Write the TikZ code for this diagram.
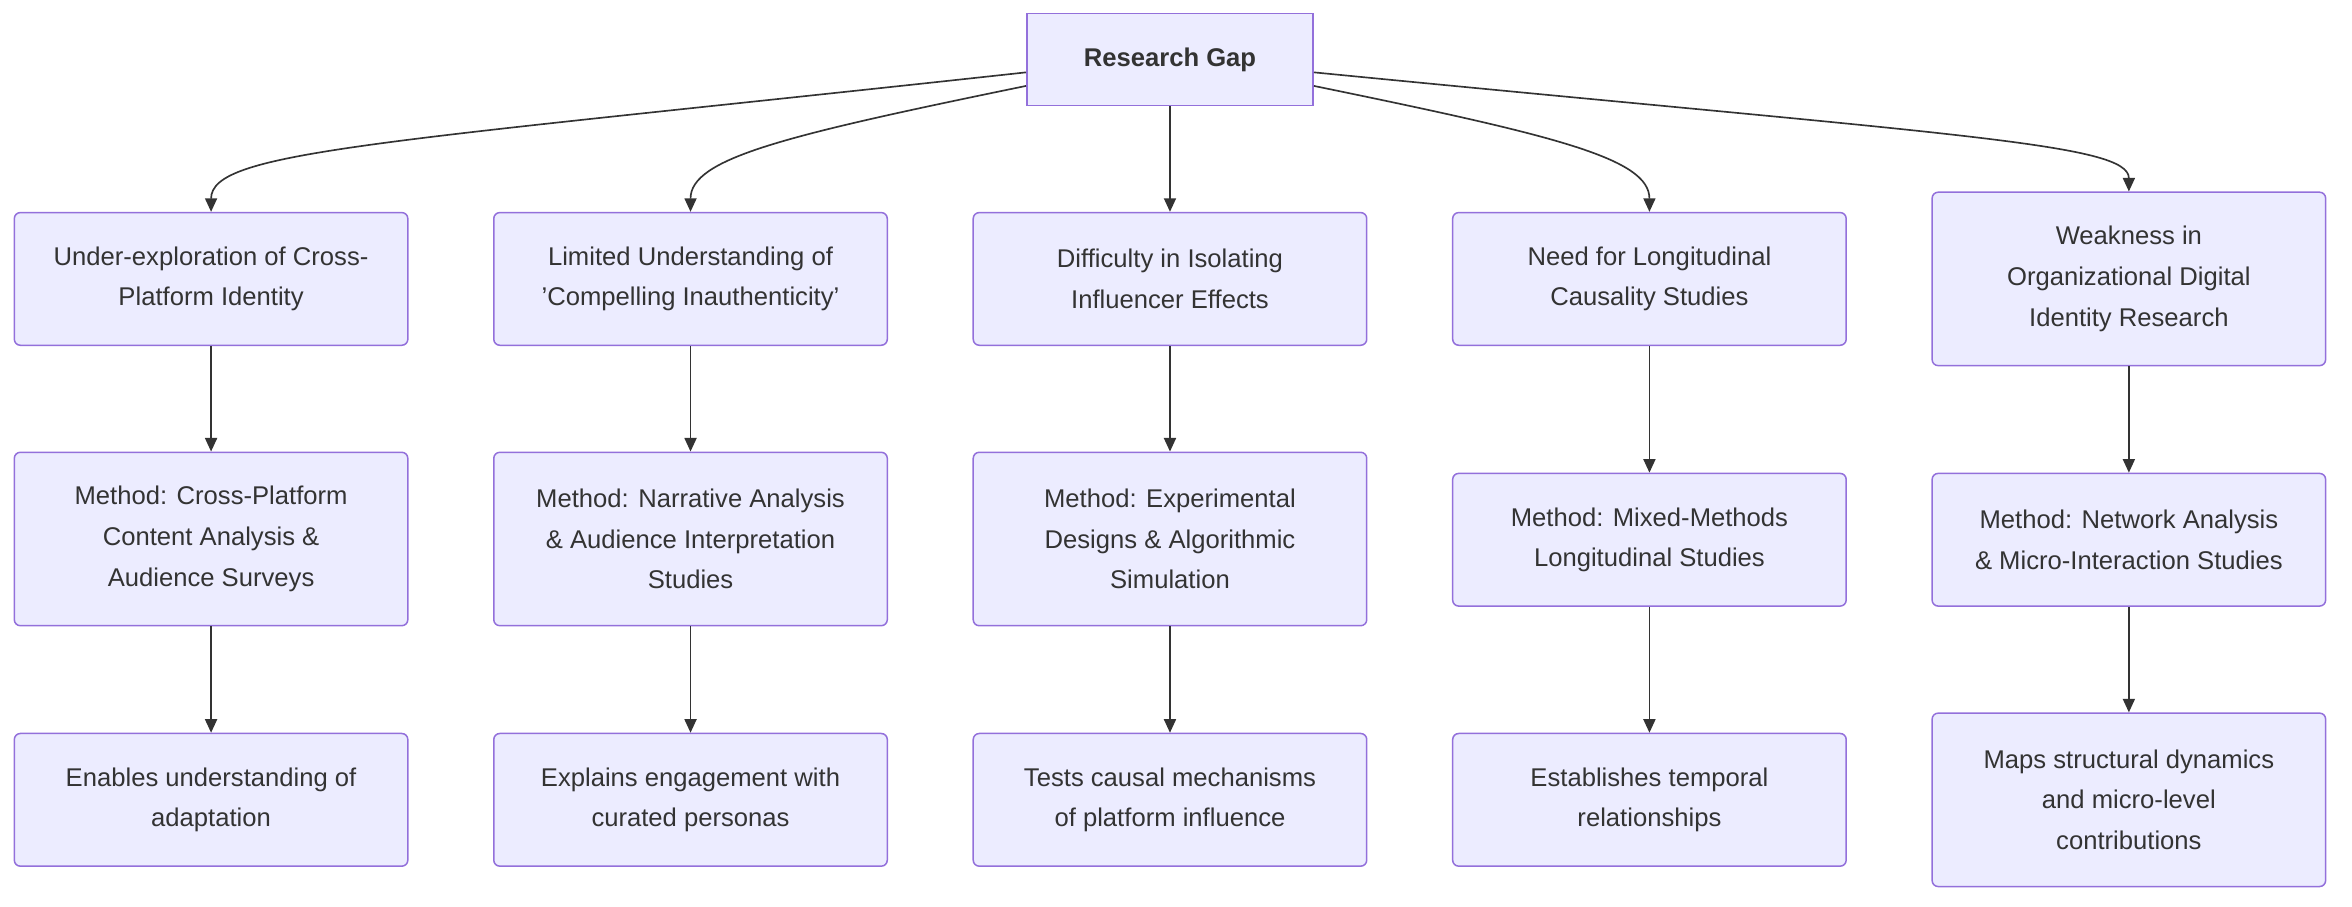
\documentclass[tikz,border=0pt]{standalone}
\usepackage{fontspec}
\setmainfont{Liberation Sans}
\usetikzlibrary{arrows.meta}
\definecolor{nfill}{HTML}{ECECFF}
\definecolor{nline}{HTML}{9370DB}
\definecolor{ink}{HTML}{333333}
\begin{document}
\begin{tikzpicture}[x=1pt,y=-1pt,
  box/.style={draw=nline,fill=nfill,line width=1pt,rounded corners=4pt,minimum width=261pt,inner sep=0pt,align=center,text=ink,font=\fontsize{17}{27}\selectfont},
  sq/.style={box,rounded corners=0pt,minimum width=190pt,minimum height=61pt,font=\fontsize{17}{27}\selectfont\bfseries},
  h88/.style={minimum height=88pt},
  h115/.style={minimum height=115pt},
  arr/.style={draw=ink,line width=1.1pt,-{Triangle[length=9pt,width=8pt]}}]
\useasboundingbox (0,0) rectangle (1560,601);
\node[sq] (g) at (776,39.5) {Research Gap};
\node[box,h88] (a1) at (140,185) {Under-exploration of Cross-\\Platform Identity};
\node[box,h88] (b1) at (458,185) {Limited Understanding of\\'Compelling Inauthenticity'};
\node[box,h88] (c1) at (776,185) {Difficulty in Isolating\\Influencer Effects};
\node[box,h88] (d1) at (1094,185) {Need for Longitudinal\\Causality Studies};
\node[box,h115] (e1) at (1412,185) {Weakness in\\Organizational Digital\\Identity Research};
\node[box,h115] (a2) at (140,357.5) {Method: Cross-Platform\\Content Analysis \&\\Audience Surveys};
\node[box,h115] (b2) at (458,357.5) {Method: Narrative Analysis\\\& Audience Interpretation\\Studies};
\node[box,h115] (c2) at (776,357.5) {Method: Experimental\\Designs \& Algorithmic\\Simulation};
\node[box,h88] (d2) at (1094,358) {Method: Mixed-Methods\\Longitudinal Studies};
\node[box,h88] (e2) at (1412,358) {Method: Network Analysis\\\& Micro-Interaction Studies};
\node[box,h88] (a3) at (140,530.5) {Enables understanding of\\adaptation};
\node[box,h88] (b3) at (458,530.5) {Explains engagement with\\curated personas};
\node[box,h88] (c3) at (776,530.5) {Tests causal mechanisms\\of platform influence};
\node[box,h88] (d3) at (1094,530.5) {Establishes temporal\\relationships};
\node[box,h115] (e3) at (1412,530.5) {Maps structural dynamics\\and micro-level\\contributions};
\draw[arr] ([yshift=-8.5pt]g.west) .. controls (250,95) and (140,100) .. (a1.north);
\draw[arr] ([yshift=-17.5pt]g.west) .. controls (520,90) and (458,105) .. (b1.north);
\draw[arr] (g) -- (c1);
\draw[arr] ([yshift=-17.5pt]g.east) .. controls (1032,90) and (1094,105) .. (d1.north);
\draw[arr] ([yshift=-8.5pt]g.east) .. controls (1300,90) and (1412,95) .. (e1.north);
\foreach \c in {a,b,c,d,e}{
  \draw[arr] (\c1) -- (\c2);
  \draw[arr] (\c2) -- (\c3);
}
\end{tikzpicture}
\end{document}
